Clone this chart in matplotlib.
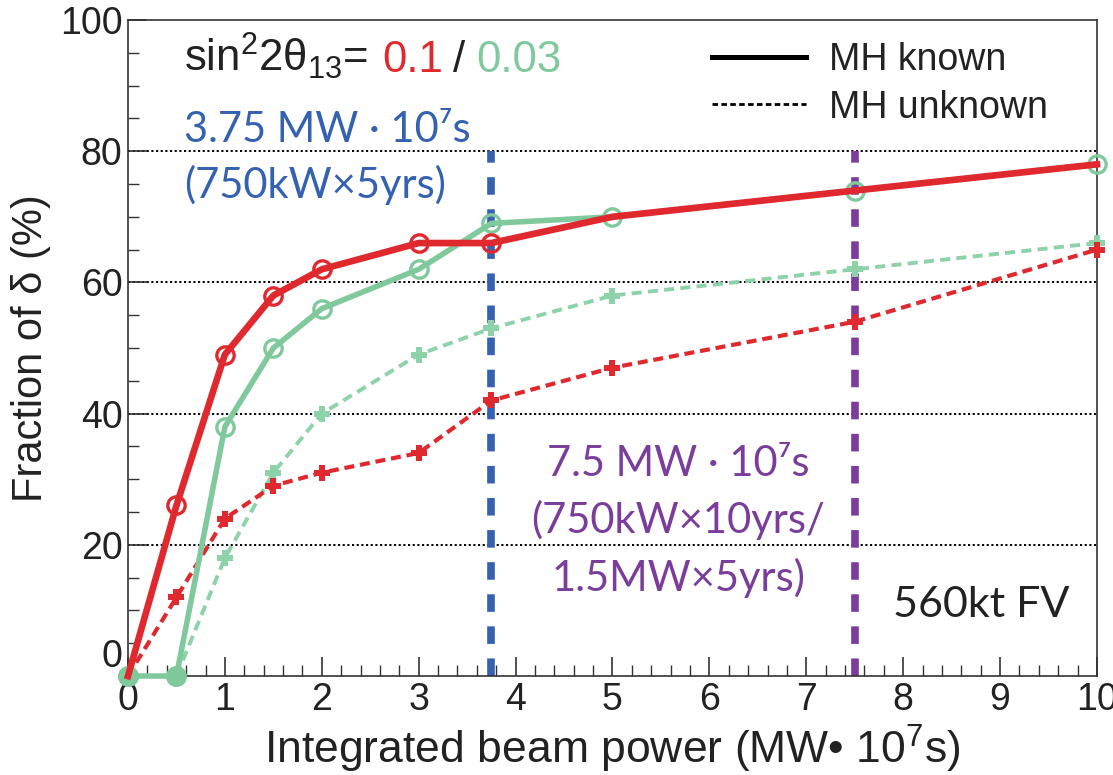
import matplotlib
matplotlib.use("Agg")
import matplotlib.pyplot as plt
from matplotlib.lines import Line2D
from matplotlib.ticker import MultipleLocator

# Integrated beam power (MW x 10^7 s) and fraction of delta covered (%)
power = [0, 0.5, 1, 1.5, 2, 3, 3.75, 5, 7.5, 10]
known_01 = [0, 26, 49, 58, 62, 66, 66, 70, 74, 78]
known_003 = [0, 0, 38, 50, 56, 62, 69, 70, 74, 78]
unknown_01 = [0, 12, 24, 29, 31, 34, 42, 47, 54, 65]
unknown_003 = [0, 0, 18, 31, 40, 49, 53, 58, 62, 66]

# reference exposures (MW x 10^7 s) and the height their markers reach (%)
exposures = [3.75, 7.5]
exposure_top = 80
grid_levels = [20, 40, 60, 80]
xticks = list(range(0, 11))
yticks = [0, 20, 40, 60, 80, 100]
ytick_labels = ["", "20", "40", "60", "80", "100"]

RED = "#e0292f"
GREEN = "#80c99c"
GREEN_D = "#8ed2a9"
BLUE = "#3461b2"
PURPLE = "#7a3d9c"
INK = "#222222"

plt.rcParams["font.family"] = ["Liberation Sans", "DejaVu Sans"]
plt.rcParams["mathtext.fontset"] = "custom"
plt.rcParams["mathtext.rm"] = "Liberation Sans"
plt.rcParams["mathtext.it"] = "Liberation Sans:italic"
plt.rcParams["mathtext.bf"] = "Liberation Sans:bold"
HUMANIST = ["Lato", "DejaVu Sans"]

fig = plt.figure(figsize=(11.13, 7.75), dpi=100)
ax = fig.add_axes([0.115, 0.1277, 0.8706, 0.8465])
ax.set_xlim(0, 10)
ax.set_ylim(0, 100)

# dotted horizontal guides
for lvl in grid_levels:
    ax.axhline(lvl, color="black", lw=1.4, ls=(0, (1.1, 1.3)), zorder=1)

# exposure markers
ax.vlines(exposures[0], 0, exposure_top, color=BLUE, lw=5.5,
          linestyles=[(0, (2.3, 1.9))], zorder=2, clip_on=False)
ax.vlines(exposures[1], 0, exposure_top, color=PURPLE, lw=5.5,
          linestyles=[(0, (2.3, 1.9))], zorder=2, clip_on=False)

# MH unknown (dashed, plus markers)
ax.plot(power, unknown_003, color=GREEN_D, lw=2.8, ls=(0, (2.6, 1.6)),
        marker="P", ms=11, mew=0, mfc=GREEN_D, zorder=3, clip_on=False)
ax.plot(power, unknown_01, color=RED, lw=3.0, ls=(0, (2.4, 1.4)),
        marker="P", ms=11, mew=0, mfc=RED, zorder=4, clip_on=False)

# MH known (solid, open circles)
ax.plot(power, known_003, color=GREEN, lw=4.0, marker="o", ms=12.5,
        mew=2.4, mfc="none", mec=GREEN, zorder=5, clip_on=False)
zero_idx = [i for i, v in enumerate(known_003) if v == 0]
ax.plot([power[i] for i in zero_idx], [known_003[i] for i in zero_idx],
        ls="none", marker="o", ms=12.5, mew=2.4, mfc=GREEN, mec=GREEN,
        zorder=5, clip_on=False)
red_marked = [i for i, p in enumerate(power) if 0 < p <= exposures[0]]
ax.plot(power, known_01, color=RED, lw=4.8, marker="o", ms=12.5, mew=2.4,
        mfc="none", mec=RED, markevery=red_marked, zorder=6, clip_on=False)

# axes styling
for side in ("left", "bottom", "top", "right"):
    ax.spines[side].set_linewidth(1.2)
    ax.spines[side].set_color("#333333")
ax.set_xticks(xticks)
ax.set_yticks(yticks)
ax.set_yticklabels(ytick_labels)
ax.xaxis.set_minor_locator(MultipleLocator(0.2))
ax.yaxis.set_minor_locator(MultipleLocator(5))
ax.tick_params(which="both", direction="in", top=False, right=False,
               colors="#333333", labelcolor=INK, labelsize=27)
ax.tick_params(which="major", length=14, width=1.2, pad=4)
ax.tick_params(which="minor", length=8, width=1.0)
ax.tick_params(axis="y", pad=4)

# the zero on the value axis sits raised above the corner
ax.annotate("0", xy=(0, 0), xycoords=ax.get_yaxis_transform(),
            xytext=(-4, 14), textcoords="offset points", ha="right",
            va="center", fontsize=27, color=INK)

ax.set_xlabel("Integrated beam power (MW\u2022 10$^{7}$s)", fontsize=32,
              color=INK, labelpad=4)
ax.set_ylabel("Fraction of \u03b4 (%)", fontsize=30, color=INK, labelpad=6)

# mixing-angle header with coloured values
t0 = ax.text(0.58, 94.6, r"sin$^{2}$2$\mathrm{\theta}_{13}$=", fontsize=31.5,
             color=INK, va="center", ha="left")
t1 = ax.annotate("0.1", xy=(1, 0), xycoords=t0, xytext=(10, 0),
                 textcoords="offset points", va="bottom", ha="left",
                 fontsize=31.5, color=RED)
t2 = ax.annotate("/", xy=(1, 0), xycoords=t1, xytext=(7, 0),
                 textcoords="offset points", va="bottom", ha="left",
                 fontsize=31.5, color=INK)
ax.annotate("0.03", xy=(1, 0), xycoords=t2, xytext=(8, 0),
            textcoords="offset points", va="bottom", ha="left",
            fontsize=31.5, color=GREEN)

# legend for line styles
handles = [Line2D([], [], color="black", lw=3.6),
           Line2D([], [], color="black", lw=2.0, ls=(0, (2.0, 1.2)))]
ax.legend(handles, ["MH known", "MH unknown"], loc="upper left",
          bbox_to_anchor=(0.603, 0.966), frameon=False, fontsize=27,
          handlelength=2.5, handletextpad=0.6, labelspacing=0.3,
          borderpad=0, borderaxespad=0, labelcolor=INK)

# exposure annotations
ax.text(0.58, 83.3, "3.75 MW \u00b7 10\u2077s", fontsize=30, color=BLUE,
        family=HUMANIST, ha="left", va="center")
ax.text(0.58, 74.9, "(750kW\u00d75yrs)", fontsize=30, color=BLUE,
        family=HUMANIST, ha="left", va="center")
ax.text(5.68, 32.3, "7.5 MW \u00b7 10\u2077s", fontsize=30, color=PURPLE,
        family=HUMANIST, ha="center", va="center")
ax.text(5.68, 23.8, "(750kW\u00d710yrs/", fontsize=30, color=PURPLE,
        family=HUMANIST, ha="center", va="center")
ax.text(5.68, 15.0, "1.5MW\u00d75yrs)", fontsize=30, color=PURPLE,
        family=HUMANIST, ha="center", va="center")
ax.text(7.9, 10.8, "560kt FV", fontsize=31, color=INK, family=HUMANIST,
        ha="left", va="center")

fig.savefig("out.png", dpi=100)
